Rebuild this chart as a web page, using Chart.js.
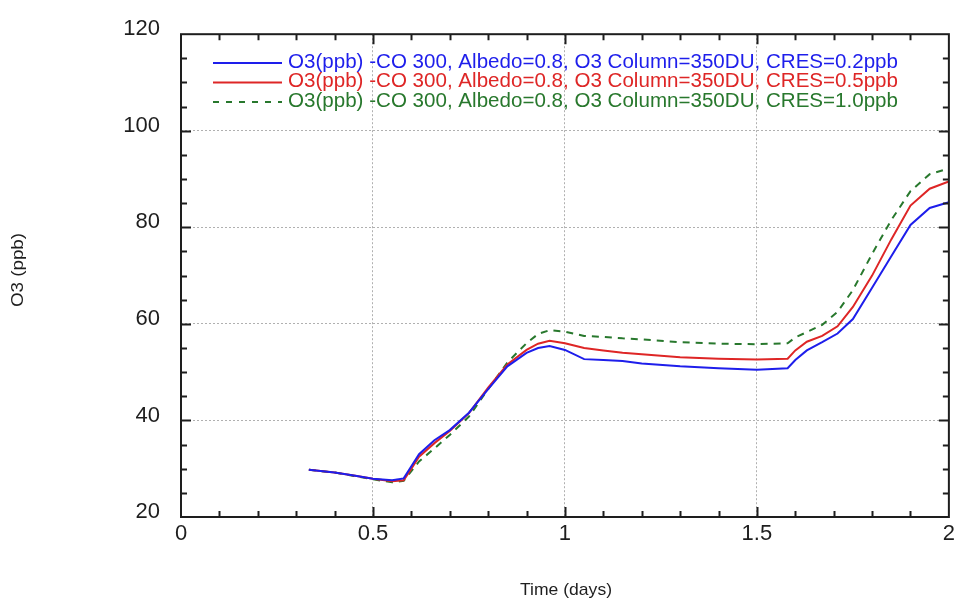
<!DOCTYPE html>
<html>
<head>
<meta charset="utf-8">
<script src="https://cdn.jsdelivr.net/npm/chart.js@4"></script>
<style>
  html, body { margin: 0; padding: 0; background: #ffffff; }
  #c { display: block; }
</style>
</head>
<body>
<canvas id="c" width="959" height="601"></canvas>
<script>
// ---- data ----
const timeDays = [0.333, 0.4, 0.45, 0.5, 0.55, 0.58, 0.6, 0.62, 0.66, 0.7, 0.75, 0.8, 0.85, 0.9, 0.93, 0.96,
                  1.0, 1.05, 1.1, 1.15, 1.2, 1.3, 1.4, 1.5, 1.58, 1.6, 1.63, 1.67, 1.71, 1.75, 1.8, 1.85, 1.9, 1.95, 2.0];
const cres02 = [29.8, 29.2, 28.6, 27.9, 27.6, 28.0, 30.5, 33.0, 35.9, 38.0, 41.6, 46.5, 51.2, 54.0, 55.0, 55.4,
                54.6, 52.7, 52.5, 52.3, 51.8, 51.2, 50.8, 50.5, 50.8, 52.5, 54.5, 56.2, 58.0, 61.0, 67.5, 74.0, 80.5, 84.0, 85.2];
const cres05 = [29.8, 29.2, 28.6, 27.9, 27.4, 27.6, 30.0, 32.5, 35.3, 37.8, 41.5, 46.8, 51.6, 54.6, 55.9, 56.5,
                56.0, 55.0, 54.5, 54.0, 53.7, 53.1, 52.8, 52.6, 52.8, 54.5, 56.3, 57.5, 59.5, 63.5, 70.0, 77.5, 84.5, 88.0, 89.5];
const cres10 = [29.8, 29.2, 28.5, 27.8, 27.2, 27.5, 29.5, 31.5, 34.2, 37.0, 40.8, 46.5, 52.0, 56.0, 57.9, 58.7,
                58.4, 57.5, 57.3, 57.0, 56.8, 56.2, 55.9, 55.8, 56.0, 57.2, 58.3, 59.8, 62.5, 67.0, 74.5, 81.5, 87.5, 91.0, 92.2];
const seriesLabels = [
  "O3(ppb) -CO 300, Albedo=0.8, O3 Column=350DU, CRES=0.2ppb",
  "O3(ppb) -CO 300, Albedo=0.8, O3 Column=350DU, CRES=0.5ppb",
  "O3(ppb) -CO 300, Albedo=0.8, O3 Column=350DU, CRES=1.0ppb"
];
const xTitle = "Time (days)";
const yTitle = "O3 (ppb)";
const xMin = 0, xMax = 2, xMajor = 0.5, xMinor = 0.1;
const yMin = 20, yMax = 120, yMajor = 20, yMinor = 5;

const colors = ["rgb(30,30,235)", "rgb(222,38,38)", "rgb(40,120,45)"];
const dashes = [[], [], [7, 6]];
const FONT = '"Liberation Sans", Arial, Helvetica, sans-serif';

function pts(arr) { return timeDays.map((t, i) => ({ x: t, y: arr[i] })); }

function fitText(ctx, text, x, y, width) {
  const w = ctx.measureText(text).width;
  ctx.save();
  ctx.translate(x, y);
  ctx.scale(width / w, 1);
  ctx.fillText(text, 0, 0);
  ctx.restore();
}

const decor = {
  id: 'decor',
  afterDatasetsDraw(chart) {
    const ctx = chart.ctx;
    const a = chart.chartArea;
    const xs = chart.scales.x, ys = chart.scales.y;
    ctx.save();
    ctx.strokeStyle = '#1e1e1e';
    ctx.lineWidth = 2;
    ctx.setLineDash([]);
    // frame
    ctx.strokeRect(a.left, a.top, a.right - a.left, a.bottom - a.top);
    // ticks on x (bottom and top), inward
    const nX = Math.round((xMax - xMin) / xMinor);
    for (let i = 1; i < nX; i++) {
      const v = xMin + i * xMinor;
      const px = Math.round(xs.getPixelForValue(v)) + 0.5;
      const major = Math.abs(v / xMajor - Math.round(v / xMajor)) < 1e-6;
      const len = major ? 10 : 6;
      ctx.beginPath();
      ctx.moveTo(px, a.bottom); ctx.lineTo(px, a.bottom - len);
      ctx.moveTo(px, a.top); ctx.lineTo(px, a.top + len);
      ctx.stroke();
    }
    const nY = Math.round((yMax - yMin) / yMinor);
    for (let i = 1; i < nY; i++) {
      const v = yMin + i * yMinor;
      const py = Math.round(ys.getPixelForValue(v)) + 0.5;
      const major = Math.abs((v - yMin) / yMajor - Math.round((v - yMin) / yMajor)) < 1e-6;
      const len = major ? 10 : 6;
      ctx.beginPath();
      ctx.moveTo(a.left, py); ctx.lineTo(a.left + len, py);
      ctx.moveTo(a.right, py); ctx.lineTo(a.right - len, py);
      ctx.stroke();
    }
    // legend
    const rows = [62, 81.5, 101];
    ctx.font = '20px ' + FONT;
    ctx.textBaseline = 'middle';
    ctx.textAlign = 'left';
    for (let i = 0; i < seriesLabels.length; i++) {
      ctx.strokeStyle = colors[i];
      ctx.lineWidth = 2;
      ctx.setLineDash(i === 2 ? [6, 7] : []);
      ctx.beginPath();
      ctx.moveTo(213, rows[i] + 1); ctx.lineTo(282, rows[i] + 1);
      ctx.stroke();
      ctx.setLineDash([]);
      ctx.fillStyle = colors[i];
      fitText(ctx, seriesLabels[i], 288, rows[i], 610);
    }
    // axis titles
    ctx.fillStyle = '#1e1e1e';
    ctx.font = '17px ' + FONT;
    ctx.textAlign = 'left';
    ctx.textBaseline = 'middle';
    const wx = ctx.measureText(xTitle).width;
    ctx.save();
    ctx.translate(566 - 46, 590);
    ctx.scale(92 / wx, 1);
    ctx.fillText(xTitle, 0, 0);
    ctx.restore();
    const wy = ctx.measureText(yTitle).width;
    ctx.save();
    ctx.translate(18, 270 + 37);
    ctx.rotate(-Math.PI / 2);
    ctx.scale(74 / wy, 1);
    ctx.fillText(yTitle, 0, 0);
    ctx.restore();
    ctx.restore();
  }
};

new Chart(document.getElementById('c'), {
  type: 'line',
  data: {
    datasets: [0, 1, 2].map(i => ({
      label: seriesLabels[i],
      data: pts([cres02, cres05, cres10][i]),
      borderColor: colors[i],
      backgroundColor: colors[i],
      borderWidth: 2,
      borderDash: dashes[i],
      pointRadius: 0,
      tension: 0,
      fill: false
    }))
  },
  options: {
    responsive: false,
    animation: false,
    devicePixelRatio: 1,
    layout: { padding: { left: 0, top: 28, right: 9, bottom: 0 } },
    plugins: { legend: { display: false }, title: { display: false }, tooltip: { enabled: false } },
    scales: {
      x: {
        type: 'linear', min: xMin, max: xMax,
        afterFit(s) { s.height = 601 - 517; },
        ticks: { stepSize: xMajor, padding: 4, color: '#1e1e1e', font: { family: FONT, size: 22 },
                 maxRotation: 0, callback: v => String(v) },
        grid: { color: '#b0b0b0', lineWidth: 1, drawTicks: false },
        border: { display: false, dash: [2, 2] }
      },
      y: {
        type: 'linear', min: yMin, max: yMax,
        afterFit(s) { s.width = 181; },
        ticks: { stepSize: yMajor, padding: 21, labelOffset: -5, color: '#1e1e1e', font: { family: FONT, size: 22 },
                 callback: v => String(v) },
        grid: { color: '#b0b0b0', lineWidth: 1, drawTicks: false },
        border: { display: false, dash: [2, 2] }
      }
    }
  },
  plugins: [decor]
});
</script>
</body>
</html>
